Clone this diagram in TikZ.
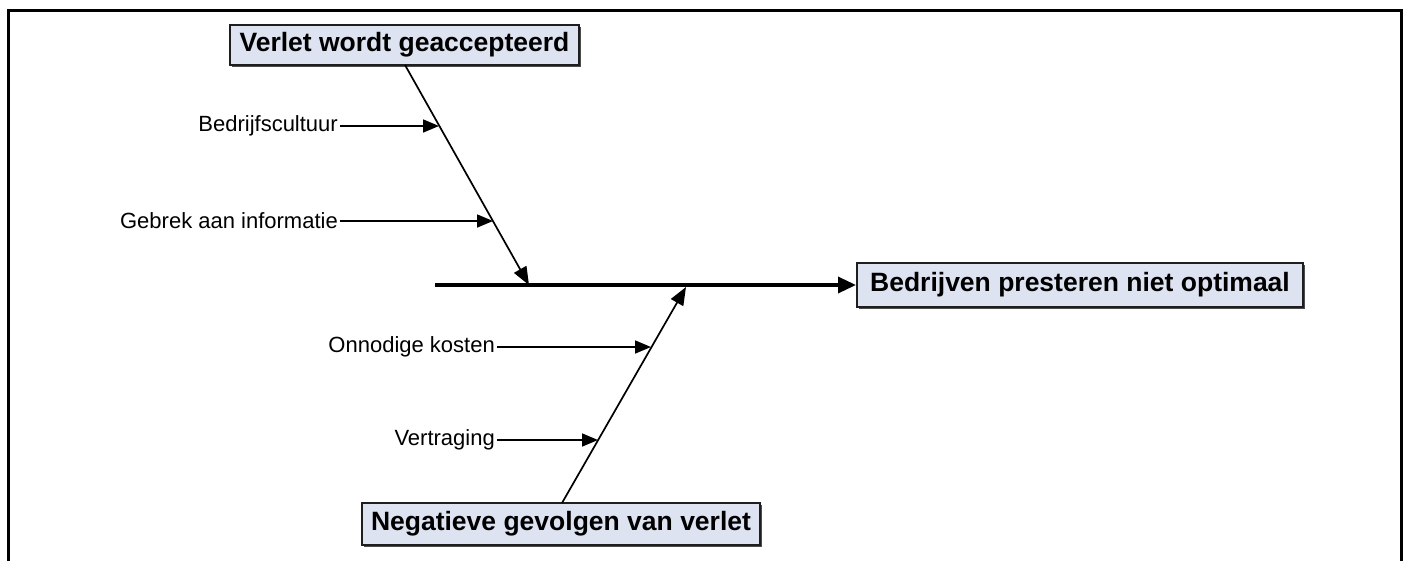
\documentclass[tikz,border=0pt]{standalone}
\usepackage{fontspec}
\setmainfont{Liberation Sans}
\usetikzlibrary{arrows.meta,shadows}

\definecolor{boxfill}{RGB}{221,227,240}
\definecolor{boxedge}{RGB}{30,30,30}

\tikzset{
  headbox/.style={draw=boxedge, line width=2pt, fill=boxfill,
    font=\fontsize{26.5}{30}\selectfont\bfseries, inner sep=0pt,
    drop shadow={shadow xshift=2pt, shadow yshift=-2pt, fill=black!70, opacity=1}},
  causelabel/.style={font=\fontsize{22}{26}\selectfont, inner sep=0pt, anchor=east},
  bone/.style={line width=1.7pt, -{Triangle[length=18pt,width=14pt]}},
  twig/.style={line width=1.7pt, -{Triangle[length=16pt,width=13pt]}},
  spine/.style={line width=3.4pt, -{Triangle[length=18pt,width=16pt]}},
}

\begin{document}
\begin{tikzpicture}[x=1pt, y=-1pt]
  \useasboundingbox (0,0) rectangle (1406,560);

  % outer frame (bottom edge runs off the page)
  \draw[line width=3pt] (8.5,580) -- (8.5,10) -- (1401.5,10) -- (1401.5,580);

  % head boxes
  \node[headbox, minimum width=349pt, minimum height=40pt] (cause1) at (404.5,45) {Verlet wordt geaccepteerd};
  \node[headbox, minimum width=446pt, minimum height=44pt] (effect) at (1080,285) {Bedrijven presteren niet optimaal};
  \node[headbox, minimum width=398pt, minimum height=42pt] (cause2) at (561,524) {Negatieve gevolgen van verlet};

  % spine
  \coordinate (tail) at (435,285);
  \coordinate (j1) at (529,285);
  \coordinate (j2) at (686,287);
  \draw[spine] (tail) -- (effect.west);

  % main bones
  \coordinate (b1) at (405,65);
  \coordinate (b2) at (562,503);
  \draw[bone] (b1) -- (j1);
  \draw[bone] (b2) -- (j2);

  % sub-causes on the upper bone
  \node[causelabel] (l1) at (338,126) {Bedrijfscultuur};
  \node[causelabel] (l2) at (338,221) {Gebrek aan informatie};
  \coordinate (t1) at (439,126);
  \coordinate (t2) at (493,221);
  \draw[twig] ([xshift=2pt]l1.east) -- (t1);
  \draw[twig] ([xshift=2pt]l2.east) -- (t2);

  % sub-causes on the lower bone
  \node[causelabel] (l3) at (495,347) {Onnodige kosten};
  \node[causelabel] (l4) at (495,440) {Vertraging};
  \coordinate (t3) at (651,347);
  \coordinate (t4) at (598,440);
  \draw[twig] ([xshift=2pt]l3.east) -- (t3);
  \draw[twig] ([xshift=2pt]l4.east) -- (t4);
\end{tikzpicture}
\end{document}
